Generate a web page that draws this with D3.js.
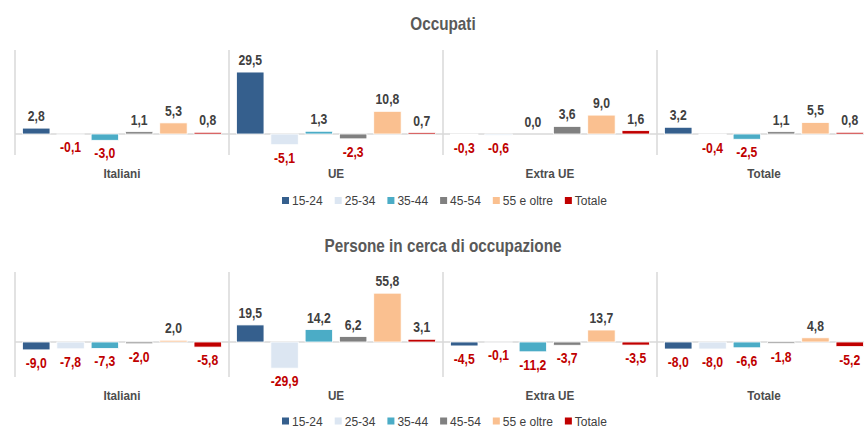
<!DOCTYPE html>
<html>
<head>
<meta charset="utf-8">
<script src="https://cdn.jsdelivr.net/npm/d3@7"></script>
<style>
  body { margin: 0; background: #fff; }
  svg { display: block; }
</style>
</head>
<body>
<svg width="864" height="428"></svg>
<script>
const groups = ["Italiani", "UE", "Extra UE", "Totale"];
const ages = ["15-24", "25-34", "35-44", "45-54", "55 e oltre", "Totale"];
const colors = ["#355f8d", "#dce6f2", "#4bacc6", "#808080", "#fac090", "#c00000"];

const occupati = [
  [2.8, -0.1, -3.0, 1.1, 5.3, 0.8],
  [29.5, -5.1, 1.3, -2.3, 10.8, 0.7],
  [-0.3, -0.6, 0.0, 3.6, 9.0, 1.6],
  [3.2, -0.4, -2.5, 1.1, 5.5, 0.8]
];
const inCerca = [
  [-9.0, -7.8, -7.3, -2.0, 2.0, -5.8],
  [19.5, -29.9, 14.2, 6.2, 55.8, 3.1],
  [-4.5, -0.1, -11.2, -3.7, 13.7, -3.5],
  [-8.0, -8.0, -6.6, -1.8, 4.8, -5.2]
];

const font = "'Liberation Sans', Arial, sans-serif";

const svg = d3.select("svg");
const plotLeft = 15, plotRight = 871, plotH = 105;
const fmt = v => d3.format(".1f")(v).replace(".", ",").replace("−", "-");

const x0 = d3.scaleBand().domain(groups).range([plotLeft, plotRight]);
const x1 = d3.scaleBand().domain(ages).range([0, x0.bandwidth()])
  .paddingInner(0.2).paddingOuter(0.22);
const color = d3.scaleOrdinal().domain(ages).range(colors);

// narrow look: squeeze text horizontally
const squeeze = (x, y, k) => `translate(${x}, ${y}) scale(${k}, 1)`;

function drawPanel(top, title, data, domain, legendY) {
  const g = svg.append("g").attr("transform", `translate(0, ${top})`);
  const y = d3.scaleLinear().domain(domain).range([plotH, 0]);

  g.append("text")
    .attr("transform", squeeze((plotLeft + plotRight) / 2, -20, 0.85))
    .attr("text-anchor", "middle")
    .style("font-family", font)
    .style("font-weight", "bold")
    .style("font-size", "18px")
    .attr("fill", "#595959")
    .text(title);

  // dividers
  g.selectAll(".div").data(groups).enter().append("line")
    .attr("x1", d => x0(d)).attr("x2", d => x0(d))
    .attr("y1", 0).attr("y2", plotH)
    .attr("stroke", "#d9d9d9").attr("stroke-width", 1.5);

  g.append("line")
    .attr("x1", plotLeft).attr("x2", plotRight)
    .attr("y1", y(0)).attr("y2", y(0))
    .attr("stroke", "#d9d9d9").attr("stroke-width", 1.5);

  const gg = g.selectAll(".grp").data(groups).enter().append("g")
    .attr("transform", d => `translate(${x0(d)}, 0)`);

  const cells = gg.selectAll(".cell")
    .data((d, i) => data[i].map((v, j) => ({ age: ages[j], v: v })))
    .enter();

  cells.append("rect")
    .attr("x", d => x1(d.age))
    .attr("width", x1.bandwidth())
    .attr("y", d => y(Math.max(0, d.v)))
    .attr("height", d => Math.abs(y(d.v) - y(0)))
    .attr("fill", d => color(d.age))
    .attr("stroke", "#fff").attr("stroke-width", 0.8);

  cells.append("text")
    .attr("transform", d => squeeze(x1(d.age) + x1.bandwidth() / 2,
      d.v >= 0 ? y(d.v) - 7 : y(d.v) + 18, 0.87))
    .attr("text-anchor", "middle")
    .style("font-family", font)
    .style("font-weight", "bold")
    .style("font-size", "14px")
    .attr("fill", d => d.v >= 0 ? "#404040" : "#c00000")
    .text(d => fmt(d.v));

  gg.append("text")
    .attr("transform", squeeze(x0.bandwidth() / 2, plotH + 23, 0.9))
    .attr("text-anchor", "middle")
    .style("font-family", font)
    .style("font-weight", "bold")
    .style("font-size", "13px")
    .attr("fill", "#4d4d4d")
    .text(d => d);

  // legend
  const leg = g.append("g").attr("transform", `translate(0, ${legendY})`);
  let lx = 282;
  ages.forEach(a => {
    leg.append("rect").attr("x", lx).attr("y", -4).attr("width", 7).attr("height", 7)
      .attr("fill", color(a));
    const t = leg.append("text").attr("x", lx + 10).attr("y", 4)
      .style("font-family", font)
      .style("font-size", "12px")
      .attr("fill", "#404040")
      .text(a);
    lx += 10 + t.node().getComputedTextLength() + 12;
  });
}

drawPanel(50, "Occupati", occupati, [-10, 40], plotH + 46);
drawPanel(272, "Persone in cerca di occupazione", inCerca, [-40, 80], plotH + 44.5);
</script>
</body>
</html>
